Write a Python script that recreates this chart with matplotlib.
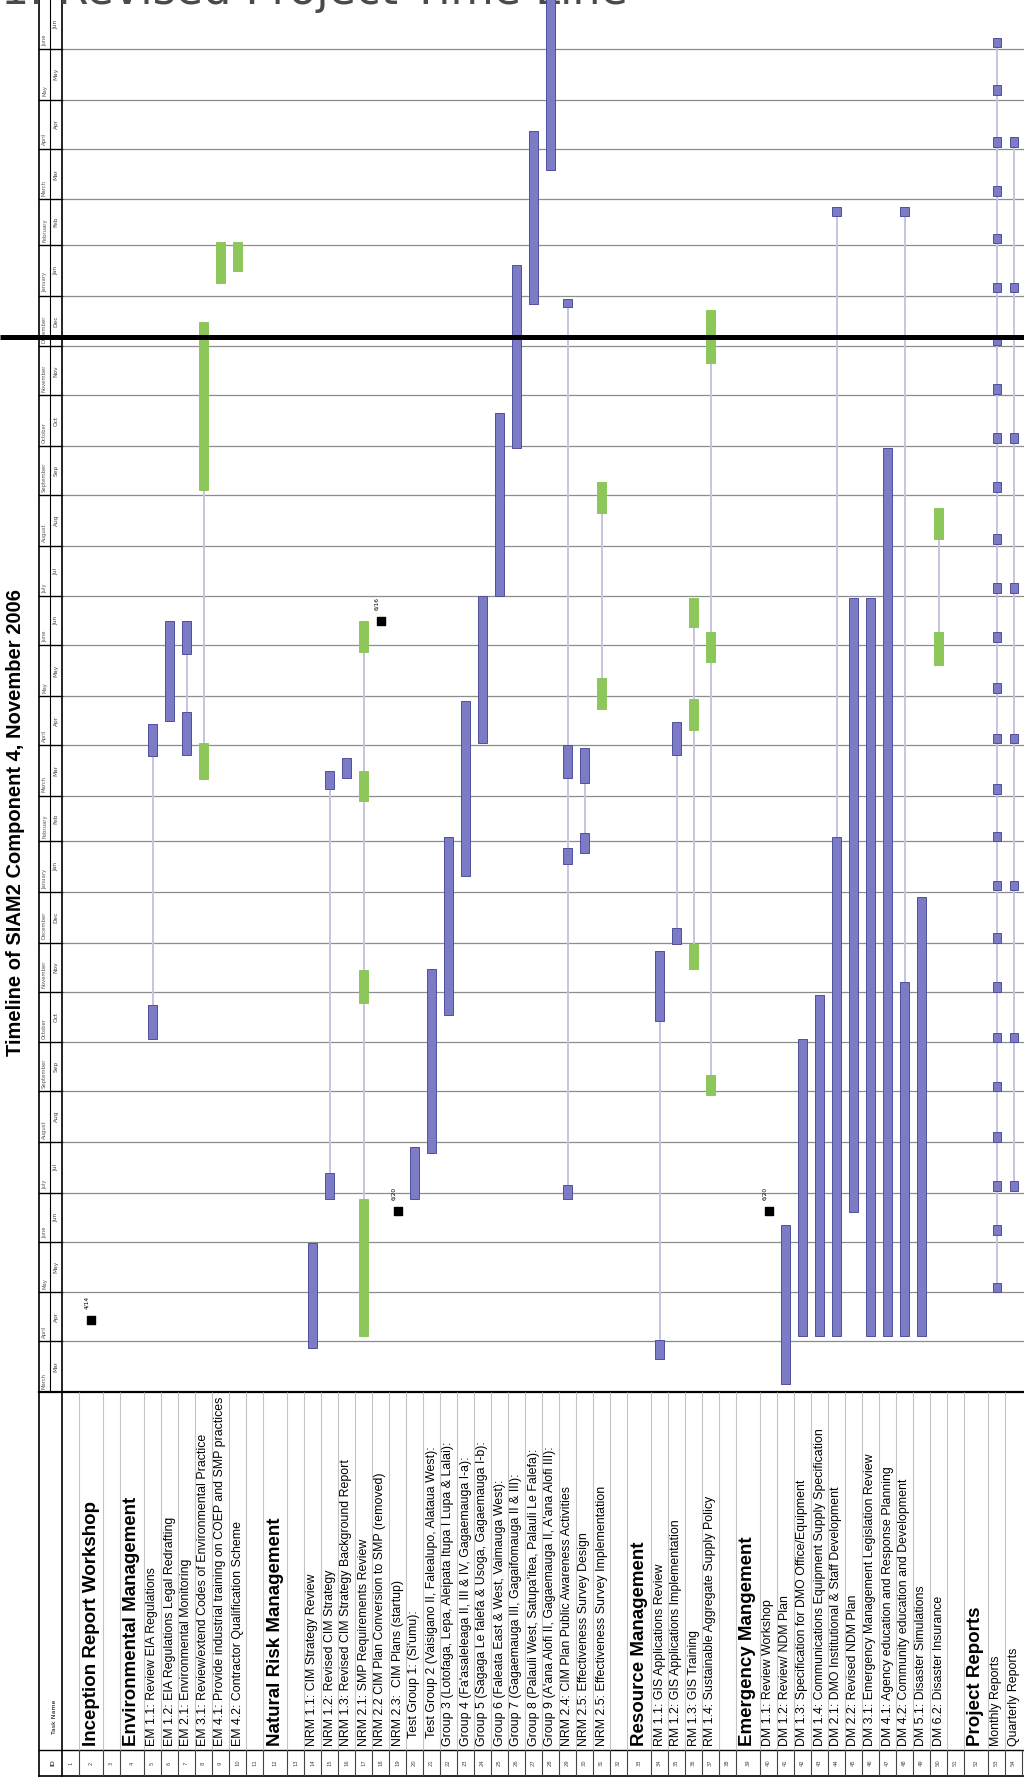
import numpy as np
import pandas as pd
import matplotlib
matplotlib.use("Agg")
import matplotlib.pyplot as plt
import matplotlib.dates as mdates
from matplotlib import font_manager

# ---- data ----
task_names = [
    "",
    "Inception Report Workshop",
    "",
    "Environmental Management",
    "EM 1.1: Review EIA Regulations",
    "EM 1.2: EIA Regulations Legal Redrafting",
    "EM 2.1: Environmental Monitoring",
    "EM 3.1: Review/extend Codes of Environmental Practice",
    "EM 4.1: Provide industrial training on COEP and SMP practices",
    "EM 4.2: Contractor Qualification Scheme",
    "",
    "Natural Risk Management",
    "",
    "NRM 1.1: CIM Strategy Review",
    "NRM 1.2: Revised CIM Strategy",
    "NRM 1.3: Revised CIM Strategy Background Report",
    "NRM 2.1: SMP Requirements Review",
    "NRM 2.2 CIM Plan Conversion to SMP (removed)",
    "NRM 2.3:  CIM Plans (startup)",
    "Test Group 1: (Si'umu):",
    "Test Group 2 (Vaisigano II, Falealupo, Alataua West):",
    "Group 3 (Lotofaga, Lepa, Aleipata Itupa I Lupa & Lalai):",
    "Group 4 (Fa'asaleleaga II, III & IV, Gagaemauga I-a):",
    "Group 5 (Sagaga Le falefa & Usoga, Gagaemauga I-b):",
    "Group 6 (Faleata East & West, Vaimauga West):",
    "Group 7 (Gagaemauga III, Gagaifomauga II & III):",
    "Group 8 (Palauli West, Satupa'itea, Palauli Le Falefa):",
    "Group 9 (A'ana Alofi II, Gagaemauga II, A'ana Alofi III):",
    "NRM 2.4: CIM Plan Public Awareness Activities",
    "NRM 2.5: Effectiveness Survey Design",
    "NRM 2.5: Effectiveness Survey Implementation",
    "",
    "Resource Management",
    "RM 1.1: GIS Applications Review",
    "RM 1.2: GIS Applications Implementation",
    "RM 1.3: GIS Training",
    "RM 1.4: Sustainable Aggregate Supply Policy",
    "",
    "Emergency Mangement",
    "DM 1.1: Review Workshop",
    "DM 1.2: Review/ NDM Plan",
    "DM 1.3: Specification for DMO Office/Equipment",
    "DM 1.4: Communications Equipment Supply Specification",
    "DM 2.1: DMO Institutional & Staff Development",
    "DM 2.2: Revised NDM Plan",
    "DM 3.1: Emergency Management Legislation Review",
    "DM 4.1: Agency education and Response Planning",
    "DM 4.2: Community education and Development",
    "DM 5.1: Disaster Simulations",
    "DM 6.2: Disaster Insurance",
    "",
    "Project Reports",
    "Monthly Reports",
    "Quarterly Reports",
]
header_rows = [2, 4, 12, 33, 39, 52]
indented_rows = [20, 21]

blue_segments = [
    (5, "2005-10-03", "2005-10-24"), (5, "2006-03-25", "2006-04-14"),
    (6, "2006-04-16", "2006-06-16"),
    (7, "2006-03-26", "2006-04-21"), (7, "2006-05-27", "2006-06-16"),
    (14, "2005-03-28", "2005-05-31"),
    (15, "2005-06-27", "2005-07-13"), (15, "2006-03-05", "2006-03-16"),
    (16, "2006-03-12", "2006-03-24"),
    (20, "2005-06-27", "2005-07-29"),
    (21, "2005-07-25", "2005-11-15"),
    (22, "2005-10-18", "2006-02-04"),
    (23, "2006-01-11", "2006-04-28"),
    (24, "2006-04-02", "2006-07-01"),
    (25, "2006-07-01", "2006-10-21"),
    (26, "2006-09-30", "2007-01-20"),
    (27, "2006-12-27", "2007-04-12"),
    (28, "2007-03-19", "2007-07-10"),
    (29, "2005-06-27", "2005-07-06"), (29, "2006-01-18", "2006-01-28"),
    (29, "2006-03-12", "2006-04-01"), (29, "2006-12-25", "2006-12-30"),
    (30, "2006-01-25", "2006-02-06"), (30, "2006-03-09", "2006-03-30"),
    (34, "2005-03-21", "2005-04-02"), (34, "2005-10-14", "2005-11-26"),
    (35, "2005-11-30", "2005-12-10"), (35, "2006-03-26", "2006-04-15"),
    (41, "2005-03-06", "2005-06-11"),
    (42, "2005-04-04", "2005-10-03"),
    (43, "2005-04-04", "2005-10-30"),
    (44, "2005-04-04", "2006-02-04"), (44, "2007-02-19", "2007-02-24"),
    (45, "2005-06-19", "2006-06-30"),
    (46, "2005-04-04", "2006-06-30"),
    (47, "2005-04-04", "2006-09-30"),
    (48, "2005-04-04", "2005-11-07"), (48, "2007-02-19", "2007-02-24"),
    (49, "2005-04-04", "2005-12-29"),
]

green_segments = [
    (8, "2006-03-11", "2006-04-02"), (8, "2006-09-04", "2006-12-16"),
    (9, "2007-01-09", "2007-02-03"),
    (10, "2007-01-16", "2007-02-03"),
    (17, "2005-04-04", "2005-06-27"), (17, "2005-10-25", "2005-11-14"),
    (17, "2006-02-26", "2006-03-16"), (17, "2006-05-28", "2006-06-16"),
    (31, "2006-04-23", "2006-05-12"), (31, "2006-08-21", "2006-09-09"),
    (36, "2005-11-15", "2005-11-30"), (36, "2006-04-10", "2006-04-29"),
    (36, "2006-06-12", "2006-06-30"),
    (37, "2005-08-30", "2005-09-11"), (37, "2006-05-22", "2006-06-09"),
    (37, "2006-11-21", "2006-12-23"),
    (50, "2006-05-20", "2006-06-09"), (50, "2006-08-05", "2006-08-24"),
]

milestones = [
    (2, "2005-04-14", "4/14"),
    (18, "2006-06-16", "6/16"),
    (19, "2005-06-20", "6/20"),
    (40, "2005-06-20", "6/20"),
]

monthly_report_starts = [
    "2005-05-01", "2005-06-05", "2005-07-02", "2005-08-01", "2005-09-01",
    "2005-10-01", "2005-11-01", "2005-12-01", "2006-01-02", "2006-02-01",
    "2006-03-02", "2006-04-02", "2006-05-03", "2006-06-03", "2006-07-03",
    "2006-08-02", "2006-09-03", "2006-10-03", "2006-11-02", "2006-12-02",
    "2007-01-03", "2007-02-02", "2007-03-03", "2007-04-02", "2007-05-04",
    "2007-06-02",
]
quarterly_report_starts = [
    "2005-07-02", "2005-10-01", "2006-01-02", "2006-04-02",
    "2006-07-03", "2006-10-03", "2007-01-03", "2007-04-02",
]
report_days = 6
monthly_row, quarterly_row = 53, 54

status_date = "2006-12-07"
timeline_start, timeline_end = "2005-03-01", "2007-07-01"

title = "Timeline of SIAM2 Component 4, November 2006"
slide_title = "1. Revised Project Time Line"

# ---- layout (pixels) ----
W, H = 1024, 1778
LEFT = 62
STRIP_L, STRIP_MID = 39, 50
TIME_BOTTOM = 1392
ID_TOP, ID_BOTTOM = 1750, 1776

BLUE = "#7b7bc6"
BLUE_EDGE = "#4f4f9c"
GREEN = "#8dc75a"
LAVENDER = "#c9c3e3"
GRID = "#8c8c8c"

row_w = np.array([24 if r in header_rows else 17 for r in range(1, len(task_names) + 1)])
edges = LEFT + np.concatenate([[0], np.cumsum(row_w)])
centers = (edges[:-1] + edges[1:]) / 2


def cx(row):
    return centers[row - 1]


def dnum(s):
    return mdates.date2num(pd.Timestamp(s))


installed = {f.name for f in font_manager.fontManager.ttflist}
if "Liberation Sans Narrow" in installed:
    task_font, task_size = "Liberation Sans Narrow", 10.4
else:
    task_font, task_size = "Liberation Sans", 8.9
bold_font = "Liberation Sans" if "Liberation Sans" in installed else "DejaVu Sans"

fig = plt.figure(figsize=(W / 100, H / 100), dpi=100)
fig.patch.set_facecolor("white")

bg = fig.add_axes([0, 0, 1, 1])
bg.set_xlim(0, W)
bg.set_ylim(H, 0)
bg.axis("off")

# task-name column: its own axes so long names get clipped at the column edge
names_ax = fig.add_axes([0, 1 - ID_TOP / H, 1, (ID_TOP - TIME_BOTTOM) / H])
names_ax.set_xlim(0, W)
names_ax.set_ylim(ID_TOP, TIME_BOTTOM)
names_ax.axis("off")

ax = fig.add_axes([0, 1 - TIME_BOTTOM / H, 1, TIME_BOTTOM / H])
ax.set_xlim(0, W)
ax.set_ylim(dnum(timeline_start), dnum(timeline_end))
ax.axis("off")

# month grid + timescale strip
months = pd.date_range(timeline_start, timeline_end, freq="MS")
for m in months[1:-1]:
    y = mdates.date2num(m)
    ax.plot([LEFT, W], [y, y], color=GRID, lw=0.9, zorder=1)
    ax.plot([STRIP_L, LEFT], [y, y], color="black", lw=1.0, zorder=1)
for m, m_next in zip(months[:-1], months[1:]):
    y0, y1 = mdates.date2num(m), mdates.date2num(m_next)
    ax.text((STRIP_MID + LEFT) / 2, (y0 + y1) / 2, m.strftime("%b"), rotation=90,
            fontsize=4.2, color="#444444", ha="center", va="center")
    ax.text((STRIP_L + STRIP_MID) / 2, y0 + 2, m.strftime("%B"), rotation=90,
            rotation_mode="anchor", fontsize=3.8, color="#555555", ha="left", va="center")

# table lines
bg.plot([STRIP_L, STRIP_L], [0, ID_BOTTOM], color="black", lw=1.2)
bg.plot([STRIP_MID, STRIP_MID], [0, TIME_BOTTOM], color="black", lw=0.8)
bg.plot([LEFT, LEFT], [0, ID_BOTTOM], color="black", lw=1.2)
bg.plot([STRIP_L, W], [TIME_BOTTOM, TIME_BOTTOM], color="black", lw=1.6)
bg.plot([STRIP_L, W], [ID_TOP, ID_TOP], color="black", lw=1.0)
bg.plot([STRIP_L, W], [ID_BOTTOM, ID_BOTTOM], color="black", lw=1.2)
bg.vlines(edges[1:-1], TIME_BOTTOM, ID_TOP, color="#c4c4c4", lw=0.8)
bg.vlines(edges[1:], ID_TOP, ID_BOTTOM, color="#444444", lw=0.8)

# header cells
bg.text(53, 1763, "ID", rotation=90, fontsize=4.5, ha="center", va="center")
bg.text(54, 1734, "Task Name", rotation=90, rotation_mode="anchor",
        fontsize=4.5, ha="left", va="center")

# task names + ids
for r, name in enumerate(task_names, start=1):
    bg.text(cx(r), 1763, str(r), rotation=90, fontsize=3.8, color="#444444",
            ha="center", va="center")
    if not name:
        continue
    if r in header_rows:
        names_ax.text(cx(r), 1746, name, rotation=90, rotation_mode="anchor",
                      fontsize=13.5, fontweight="bold", family=bold_font,
                      ha="left", va="center", clip_on=True)
    else:
        start = 1738 if r in indented_rows else 1746
        names_ax.text(cx(r), start, name, rotation=90, rotation_mode="anchor",
                      fontsize=task_size, family=task_font, ha="left", va="center",
                      clip_on=True)

# split-task connector lines
segments_by_row = {}
for r, s, e in blue_segments + green_segments:
    segments_by_row.setdefault(r, []).append((dnum(s), dnum(e)))
for r, segs in segments_by_row.items():
    if len(segs) > 1:
        lo = min(s for s, e in segs)
        hi = max(e for s, e in segs)
        ax.vlines(cx(r), lo, hi, color=LAVENDER, lw=1.4, zorder=2)

for row, starts in [(monthly_row, monthly_report_starts), (quarterly_row, quarterly_report_starts)]:
    st = np.array([dnum(s) for s in starts])
    ax.vlines(cx(row), st.min(), st.max() + report_days, color=LAVENDER, lw=1.4, zorder=2)
    ax.bar([cx(row)] * len(st), report_days, bottom=st, width=8,
           color=BLUE, edgecolor=BLUE_EDGE, linewidth=0.7, zorder=3)

# task bars
for segs, face, edge in [(blue_segments, BLUE, BLUE_EDGE), (green_segments, GREEN, GREEN)]:
    xs = [cx(r) for r, s, e in segs]
    st = np.array([dnum(s) for r, s, e in segs])
    en = np.array([dnum(e) for r, s, e in segs])
    ax.bar(xs, en - st, bottom=st, width=9, color=face, edgecolor=edge,
           linewidth=0.7, zorder=3)

# milestones
for r, d, label in milestones:
    ax.scatter([cx(r)], [dnum(d)], marker="s", s=38, color="black", zorder=4)
    ax.annotate(label, (cx(r), dnum(d)), xytext=(-3, 8), textcoords="offset points",
                rotation=90, fontsize=4.2, ha="center", va="bottom", zorder=4)

# current status line
ax.plot([0, W], [dnum(status_date)] * 2, color="black", lw=3.6, zorder=6,
        solid_capstyle="butt", clip_on=False)

# titles
bg.text(16, 822, title, rotation=90, fontsize=14.5, fontweight="bold",
        family=bold_font, ha="center", va="center")
bg.text(1, 4, slide_title, fontsize=32, color="#4a4a4a", ha="left", va="baseline")

fig.savefig("out.png", dpi=100, facecolor="white")
